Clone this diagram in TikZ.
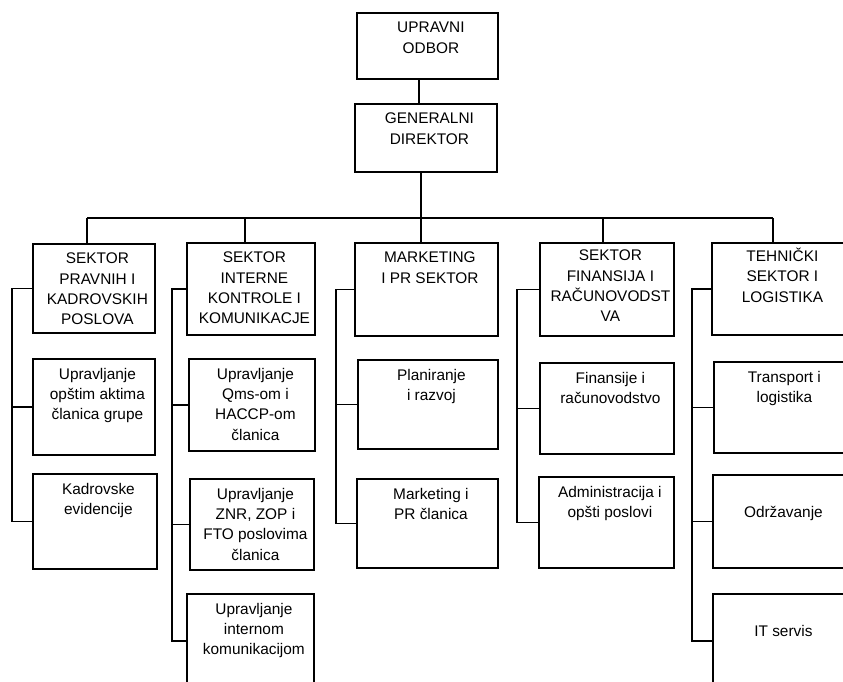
\documentclass[tikz,border=0pt]{standalone}
\usepackage{fontspec}
\setmainfont{Liberation Sans}

\begin{document}
\begin{tikzpicture}[x=1pt, y=-1pt,
        kutija/.style={draw, line width=1.8pt, inner sep=0pt, anchor=north west},
        tekst/.style={anchor=north, inner sep=0pt, align=center, xshift=3.5pt, yshift=-10pt,
            font=\fontsize{15.4}{20.3}\selectfont},
        veza/.style={line width=1.4pt}]
    \useasboundingbox (0,0) rectangle (843,682);
    \clip (0,0) rectangle (843,682);

    % uprava
    \node[kutija, minimum width=141pt, minimum height=66pt] (uo) at (356,12) {};
    \node[kutija, minimum width=142pt, minimum height=68pt] (gd) at (354,103) {};
    \node[tekst] (uo-t) at (uo.north) {UPRAVNI\\ODBOR};
    \node[tekst] (gd-t) at (gd.north) {GENERALNI\\DIREKTOR};

    % sektori
    \node[kutija, minimum width=122pt, minimum height=89pt] (s1) at (32,243) {};
    \node[kutija, minimum width=128pt, minimum height=92pt] (s2) at (186,242) {};
    \node[kutija, minimum width=143pt, minimum height=93pt] (s3) at (354,242) {};
    \node[kutija, minimum width=134pt, minimum height=93pt] (s4) at (539,242) {};
    \node[kutija, minimum width=134pt, minimum height=92pt] (s5) at (711,242) {};
    \node[tekst] (s1-t) at (s1.north) {SEKTOR\\PRAVNIH I\\KADROVSKIH\\POSLOVA};
    \node[tekst] (s2-t) at (s2.north) {SEKTOR\\INTERNE\\KONTROLE I\\KOMUNIKACJE};
    \node[tekst] (s3-t) at (s3.north) {MARKETING\\I PR SEKTOR};
    \node[tekst, yshift=2pt] (s4-t) at (s4.north) {SEKTOR\\FINANSIJA I\\RAČUNOVODST\\VA};
    \node[tekst, yshift=4pt] (s5-t) at (s5.north) {TEHNIČKI\\SEKTOR I\\LOGISTIKA};

    % sluzbe
    \node[kutija, minimum width=122pt, minimum height=96pt] (s1a) at (32,358) {};
    \node[kutija, minimum width=124pt, minimum height=95pt] (s1b) at (32,473) {};
    \node[kutija, minimum width=126pt, minimum height=92pt] (s2a) at (188,358) {};
    \node[kutija, minimum width=124pt, minimum height=91pt] (s2b) at (189,478) {};
    \node[kutija, minimum width=127pt, minimum height=94pt] (s2c) at (186,593) {};
    \node[kutija, minimum width=140pt, minimum height=89pt] (s3a) at (357,359) {};
    \node[kutija, minimum width=141pt, minimum height=89pt] (s3b) at (356,478) {};
    \node[kutija, minimum width=134pt, minimum height=91pt] (s4a) at (539,362) {};
    \node[kutija, minimum width=135pt, minimum height=91pt] (s4b) at (538,476) {};
    \node[kutija, minimum width=134pt, minimum height=91pt] (s5a) at (713,361) {};
    \node[kutija, minimum width=134pt, minimum height=93pt] (s5b) at (712,474) {};
    \node[kutija, minimum width=134pt, minimum height=94pt] (s5c) at (712,593) {};
    \node[tekst] (s1a-t) at (s1a.north) {Upravljanje\\opštim aktima\\članica grupe};
    \node[tekst] (s1b-t) at (s1b.north) {Kadrovske\\evidencije};
    \node[tekst] (s2a-t) at (s2a.north) {Upravljanje\\Qms-om i\\HACCP-om\\članica};
    \node[tekst] (s2b-t) at (s2b.north) {Upravljanje\\ZNR, ZOP i\\FTO poslovima\\članica};
    \node[tekst] (s2c-t) at (s2c.north) {Upravljanje\\internom\\komunikacijom};
    \node[tekst] (s3a-t) at (s3a.north) {Planiranje\\i razvoj};
    \node[tekst] (s3b-t) at (s3b.north) {Marketing i\\PR članica};
    \node[tekst] (s4a-t) at (s4a.north) {Finansije i\\računovodstvo};
    \node[tekst] (s4b-t) at (s4b.north) {Administracija i\\opšti poslovi};
    \node[tekst] (s5a-t) at (s5a.north) {Transport i\\logistika};
    \node[tekst, yshift=-22pt] (s5b-t) at (s5b.north) {Održavanje};
    \node[tekst, yshift=-22pt] (s5c-t) at (s5c.north) {IT servis};

    % linije
    \coordinate (u0) at (419,90);
    \coordinate (b0) at (421,218);
    \coordinate (b1) at (87,218);
    \coordinate (b2) at (245,218);
    \coordinate (b4) at (603,218);
    \coordinate (b5) at (773,218);
    \draw[veza] (uo.south -| u0) -- (gd.north -| u0);
    \draw[veza] (gd.south -| b0) -- (s3.north -| b0);
    \draw[veza] (b1) -- (b5);
    \draw[veza] (b1) -- (s1.north -| b1);
    \draw[veza] (b2) -- (s2.north -| b2);
    \draw[veza] (b4) -- (s4.north -| b4);
    \draw[veza] (b5) -- (s5.north -| b5);

    \coordinate (k1) at (12,0);
    \coordinate (k2) at (172,0);
    \coordinate (k3) at (336,0);
    \coordinate (k4) at (517,0);
    \coordinate (k5) at (692,0);
    \draw[veza] (s1.west) -- (s1.west -| k1) -- (s1b.west -| k1) -- (s1b.west);
    \draw[veza] (s1a.west -| k1) -- (s1a.west);
    \draw[veza] (s2.west) -- (s2.west -| k2) -- (s2c.west -| k2) -- (s2c.west);
    \draw[veza] (s2a.west -| k2) -- (s2a.west);
    \draw[veza] (s2b.west -| k2) -- (s2b.west);
    \draw[veza] (s3.west) -- (s3.west -| k3) -- (s3b.west -| k3) -- (s3b.west);
    \draw[veza] (s3a.west -| k3) -- (s3a.west);
    \draw[veza] (s4.west) -- (s4.west -| k4) -- (s4b.west -| k4) -- (s4b.west);
    \draw[veza] (s4a.west -| k4) -- (s4a.west);
    \draw[veza] (s5.west) -- (s5.west -| k5) -- (s5c.west -| k5) -- (s5c.west);
    \draw[veza] (s5a.west -| k5) -- (s5a.west);
    \draw[veza] (s5b.west -| k5) -- (s5b.west);
\end{tikzpicture}
\end{document}
